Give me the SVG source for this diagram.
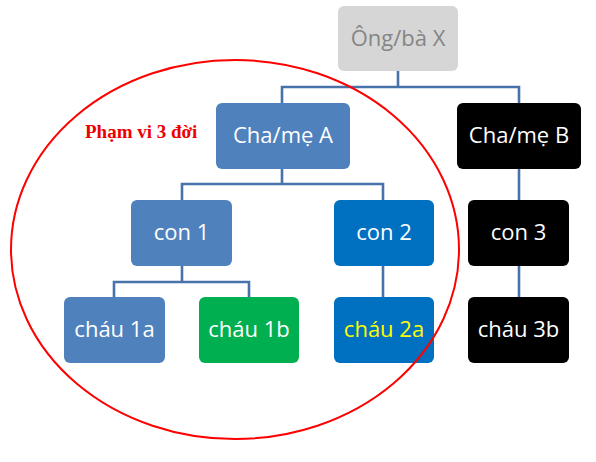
<svg xmlns="http://www.w3.org/2000/svg" width="596" height="462" viewBox="0 0 596 462">
<style>
.box{stroke:none}
.t{font-family:"Open Sans","Noto Sans",sans-serif;font-size:22px;text-anchor:middle;fill:#ffffff}
.conn{fill:none;stroke:#4772aa;stroke-width:2.6;stroke-linejoin:miter}
.blue{fill:#4f81bd}
.dblue{fill:#0070c0}
.green{fill:#00b050}
.black{fill:#000000}
.gray{fill:#d6d6d6}
</style>
<rect width="596" height="462" fill="#ffffff"/>
<g id="connectors">
<path class="conn" d="M398,71 V87 M282,103 V87 H519 V103"/>
<path class="conn" d="M282,169 V184 M182,200 V184 H383 V200"/>
<path class="conn" d="M182,266 V282 M114,297 V282 H249 V297"/>
<path class="conn" d="M383,266 V297"/>
<path class="conn" d="M519,169 V200 M519,266 V297"/>
</g>
<g id="ong-ba-x"><rect class="box gray" x="338" y="6" width="120" height="65" rx="6"/><text class="t" x="398" y="45.5" style="fill:#858585">Ông/bà X</text></g>
<g id="cha-me-a"><rect class="box blue" x="216" y="103" width="134" height="66" rx="6"/><text class="t" x="283" y="142.5">Cha/mẹ A</text></g>
<g id="cha-me-b"><rect class="box black" x="457" y="103" width="124" height="66" rx="6"/><text class="t" x="519" y="142.5">Cha/mẹ B</text></g>
<g id="con-1"><rect class="box blue" x="131" y="200" width="101" height="66" rx="6"/><text class="t" x="181.5" y="239.5">con 1</text></g>
<g id="con-2"><rect class="box dblue" x="334" y="200" width="100" height="66" rx="6"/><text class="t" x="384" y="239.5">con 2</text></g>
<g id="con-3"><rect class="box black" x="468" y="200" width="101" height="66" rx="6"/><text class="t" x="518.5" y="239.5">con 3</text></g>
<g id="chau-1a"><rect class="box blue" x="64" y="297" width="101" height="66" rx="6"/><text class="t" x="114.5" y="336.5">cháu 1a</text></g>
<g id="chau-1b"><rect class="box green" x="199" y="297" width="100" height="66" rx="6"/><text class="t" x="249" y="336.5">cháu 1b</text></g>
<g id="chau-2a"><rect class="box dblue" x="334" y="297" width="100" height="66" rx="6"/><text class="t" x="384" y="336.5" style="fill:#ffff00">cháu 2a</text></g>
<g id="chau-3b"><rect class="box black" x="468" y="297" width="101" height="66" rx="6"/><text class="t" x="518.5" y="336.5">cháu 3b</text></g>
<g id="scope">
<ellipse cx="235" cy="249.5" rx="224" ry="189.5" fill="none" stroke="#ff0000" stroke-width="2"/>
<text x="85" y="138" style="font-family:'Liberation Serif',serif;font-weight:bold;font-size:19px;fill:#ee0000">Phạm vi 3 đời</text>
</g>
</svg>
